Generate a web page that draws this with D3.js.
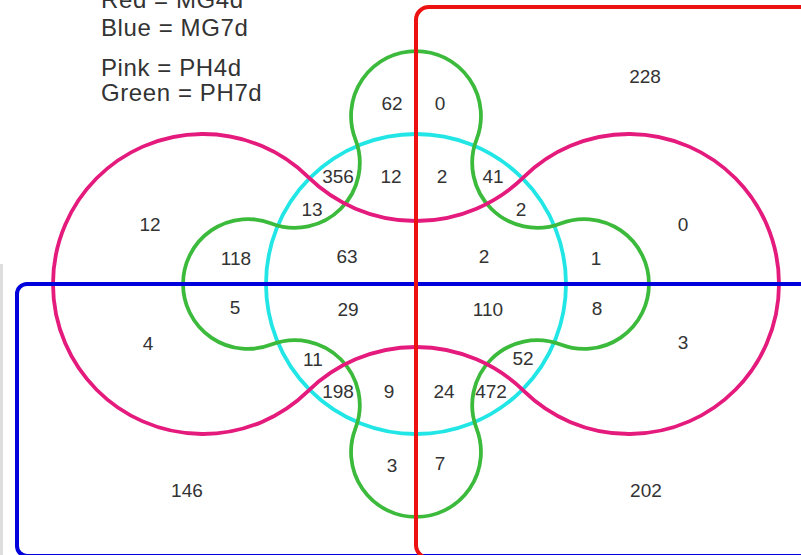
<!DOCTYPE html>
<html>
<head>
<meta charset="utf-8">
<script src="https://cdn.jsdelivr.net/npm/d3@7"></script>
<style>
  html, body { margin: 0; padding: 0; background: #fff; }
  svg { display: block; }
  text { font-family: "Liberation Sans", Arial, Helvetica, sans-serif; fill: #333; }
</style>
</head>
<body>
<svg id="chart" width="801" height="555"></svg>
<script>
// Legend lines (set colour = sample name)
const legendLines = ["Red = MG4d", "Blue = MG7d", "Pink = PH4d", "Green = PH7d"];

// Region membership: R = red, B = blue, P = pink, C = cyan, G = green
const regionSets = [
  "R", "G", "RG", "CG", "RCG", "C", "RC", "CP", "RCP", "P", "RP",
  "PG", "PCG", "RPCG", "RPG", "BPG", "BPCG", "RBPCG", "RBPG", "BP", "RBP",
  "BCP", "RBCP", "BC", "BCG", "RBCG", "RBC", "BG", "RBG", "B", "RB"
];
const regionCounts = [
  228, 62, 0, 12, 2, 356, 41, 13, 2, 12, 0,
  118, 63, 2, 1, 5, 29, 110, 8, 4, 3,
  11, 52, 198, 9, 24, 472, 3, 7, 146, 202
];

// Label anchors in diagram units (origin = diagram centre, cyan radius = 1)
const labelAnchors = [
  [1.527, -1.387], [-0.160, -1.207], [0.160, -1.207], [-0.167, -0.720], [0.173, -0.720],
  [-0.520, -0.720], [0.513, -0.720], [-0.693, -0.500], [0.700, -0.500], [-1.773, -0.400],
  [1.780, -0.400], [-1.200, -0.173], [-0.460, -0.187], [0.453, -0.187], [1.200, -0.173],
  [-1.207, 0.153], [-0.453, 0.167], [0.480, 0.167], [1.207, 0.160], [-1.787, 0.393],
  [1.780, 0.387], [-0.687, 0.500], [0.713, 0.493], [-0.520, 0.713], [-0.180, 0.713],
  [0.187, 0.713], [0.500, 0.713], [-0.160, 1.207], [0.160, 1.193], [-1.527, 1.373],
  [1.533, 1.373]
];

const svg = d3.select("#chart");
const x = d3.scaleLinear().domain([-1, 1]).range([266, 566]);
const y = d3.scaleLinear().domain([-1, 1]).range([134, 434]);
const k = x(1) - x(0);

const colors = { R: "#ec1212", B: "#0000dc", P: "#e41a7c", C: "#22e6e6", G: "#3cba3c" };

// faint scan edge on the left margin
svg.append("rect").attr("x", 0).attr("y", 264).attr("width", 3).attr("height", 291)
  .attr("fill", "#dedede");

// Build a closed outline from a ring of mutually tangent circles.
// convex circles are traced clockwise, concave (outside) circles counter-clockwise.
function ringPath(ring) {
  const p = d3.path();
  ring.forEach((c, i) => {
    const prev = ring[(i - 1 + ring.length) % ring.length];
    const next = ring[(i + 1) % ring.length];
    const a0 = Math.atan2(prev.cy - c.cy, prev.cx - c.cx);
    const a1 = Math.atan2(next.cy - c.cy, next.cx - c.cx);
    const sx = c.cx + c.r * Math.cos(a0), sy = c.cy + c.r * Math.sin(a0);
    if (i === 0) p.moveTo(sx, sy);
    p.arc(c.cx, c.cy, c.r, a0, a1, !c.convex);
  });
  p.closePath();
  return p.toString();
}

// Cyan circle
svg.append("circle").attr("cx", x(0)).attr("cy", y(0)).attr("r", k)
  .attr("fill", "none").attr("stroke", colors.C).attr("stroke-width", 3.8);

// Green four-lobed outline
const lobeDist = 1.12, lobeR = 0.433;
const connDist = (lobeDist + Math.sqrt(8 * lobeR * lobeR - lobeDist * lobeDist)) / 2;
const greenRing = [];
[-90, -45, 0, 45, 90, 135, 180, 225].forEach((deg, i) => {
  const a = deg * Math.PI / 180;
  const lobe = i % 2 === 0;
  const d = lobe ? lobeDist : connDist * Math.SQRT2;
  greenRing.push({ cx: x(d * Math.cos(a)), cy: y(d * Math.sin(a)), r: lobeR * k, convex: lobe });
});
svg.append("path").attr("d", ringPath(greenRing))
  .attr("fill", "none").attr("stroke", colors.G).attr("stroke-width", 3.8);

// Pink: two circles joined by tangent blending arcs
const pinkOff = 1.42, bandH = 0.42;
const blendR = (pinkOff * pinkOff + bandH * bandH - 1) / (2 - 2 * bandH);
const pinkRing = [
  { cx: x(-pinkOff), cy: y(0), r: k, convex: true },
  { cx: x(0), cy: y(-(bandH + blendR)), r: blendR * k, convex: false },
  { cx: x(pinkOff), cy: y(0), r: k, convex: true },
  { cx: x(0), cy: y(bandH + blendR), r: blendR * k, convex: false }
];
svg.append("path").attr("d", ringPath(pinkRing))
  .attr("fill", "none").attr("stroke", colors.P).attr("stroke-width", 3.8);

// Blue rectangle (lower half)
svg.append("rect")
  .attr("x", x(-2.66)).attr("y", y(0))
  .attr("width", x(3.0) - x(-2.66)).attr("height", y(1.813) - y(0))
  .attr("rx", 10).attr("fill", "none").attr("stroke", colors.B).attr("stroke-width", 4);

// Red rectangle (right half)
svg.append("rect")
  .attr("x", x(0)).attr("y", y(-1.847))
  .attr("width", x(3.0) - x(0)).attr("height", y(1.827) - y(-1.847))
  .attr("rx", 13).attr("fill", "none").attr("stroke", colors.R).attr("stroke-width", 4);

// Region counts
svg.append("g").selectAll("text")
  .data(regionCounts.map((v, i) => ({ v, set: regionSets[i], pos: labelAnchors[i] })))
  .join("text")
  .attr("x", d => x(d.pos[0]))
  .attr("y", d => y(d.pos[1]))
  .attr("dy", "0.36em")
  .attr("text-anchor", "middle")
  .attr("font-size", 19)
  .text(d => d.v);

// Legend
const legendBase = [8, 36, 76, 101];
svg.append("g").selectAll("text")
  .data(legendLines)
  .join("text")
  .attr("x", 101)
  .attr("y", (d, i) => legendBase[i])
  .attr("font-size", 24)
  .attr("letter-spacing", 0.6)
  .text(d => d);
</script>
</body>
</html>
